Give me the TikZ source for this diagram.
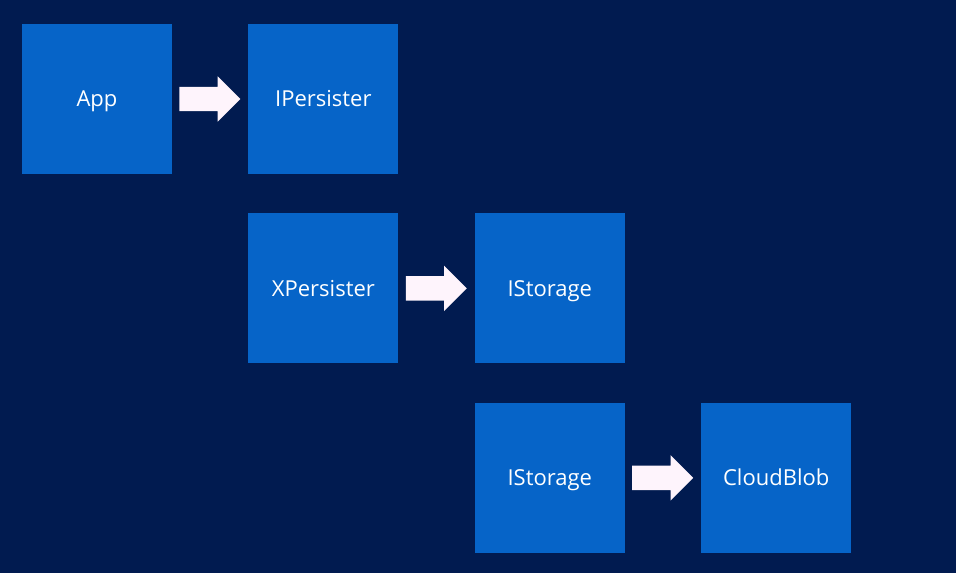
\documentclass[tikz,border=0pt]{standalone}
\usepackage{fontspec}
\setmainfont{Open Sans}
\usepackage{xcolor}
\usepackage{tikz}
\usetikzlibrary{
	positioning,    % below=of, right=of
	shapes.arrows   % frecce piene
}
\definecolor{sfondo}{RGB}{1,27,80}
\definecolor{blocco}{RGB}{6,100,200}
\definecolor{freccia}{RGB}{254,244,252}

\begin{document}
\begin{tikzpicture}[
				x=1pt, y=-1pt,
				blocco/.style={fill=blocco, minimum size=150pt, inner sep=0pt,
					text=white, font=\fontsize{22}{26}\selectfont,
					text height=15.7pt, text depth=0pt},
				freccia/.style={single arrow, fill=freccia, draw=none,
					minimum height=61pt, inner xsep=0pt, inner ysep=12pt,
					single arrow head extend=10.5pt, single arrow tip angle=90}
				]
				
				% --- Sfondo ---
				\fill[sfondo] (0,0) rectangle (956,573);
				\useasboundingbox (0,0) rectangle (956,573);
				
				% --- Blocchi ---
				\node[blocco] (app) at (97,99) {App};
				\node[blocco, right=76pt of app] (ipersister) {IPersister};
				\node[blocco, below=39pt of ipersister] (xpersister) {XPersister};
				\node[blocco, right=76pt of xpersister] (istorage) {IStorage};
				\node[blocco, below=39pt of istorage] (istorageb) {IStorage};
				\node[blocco, right=76pt of istorageb] (cloudblob) {CloudBlob};
				
				% --- Frecce ---
				\node[freccia, right=7pt of app] (f1) {};
				\node[freccia, right=7pt of xpersister] (f2) {};
				\node[freccia, right=7pt of istorageb] (f3) {};
				
			\end{tikzpicture}
\end{document}
